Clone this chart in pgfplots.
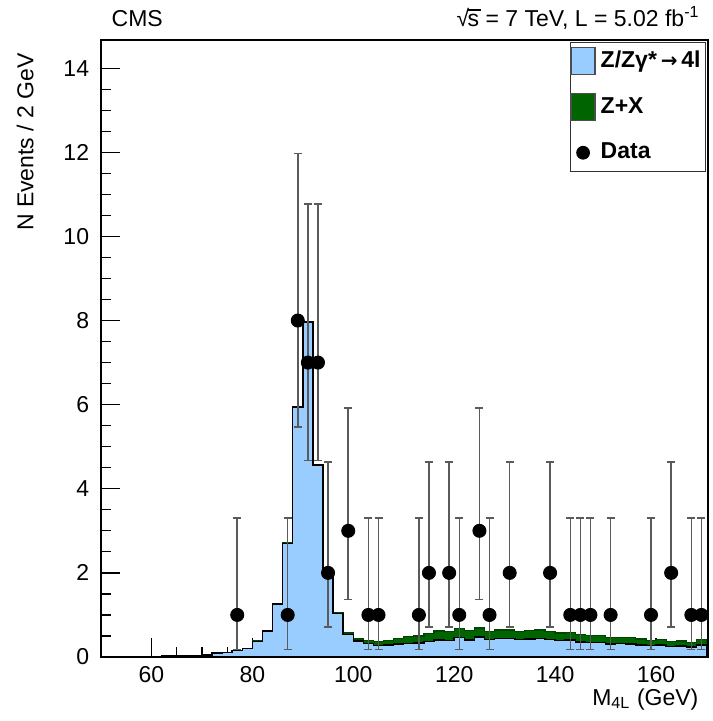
\documentclass[border=0pt]{standalone}
\usepackage{pgfplots}
\usepackage{pgfplotstable}
\pgfplotsset{compat=1.18}
\usepackage{fontspec}
\setmainfont{Liberation Sans}
\definecolor{zzblue}{RGB}{153,204,255}
\definecolor{zxgreen}{RGB}{0,100,0}
\definecolor{errgray}{RGB}{90,90,90}

\pgfplotstableread{
edge zz tot
62 0.03 0.03
64 0.03 0.03
66 0.03 0.03
68 0.04 0.04
70 0.05 0.05
72 0.09 0.09
74 0.11 0.11
76 0.15 0.15
78 0.20 0.21
80 0.37 0.38
82 0.62 0.63
84 1.26 1.27
86 2.70 2.71
88 5.94 5.95
90 7.96 7.97
92 4.56 4.57
94 2.00 2.01
96 1.03 1.05
98 0.54 0.57
100 0.38 0.43
102 0.32 0.40
104 0.27 0.36
106 0.28 0.39
108 0.31 0.44
110 0.32 0.48
112 0.33 0.50
114 0.37 0.56
116 0.41 0.62
118 0.39 0.61
120 0.46 0.68
122 0.41 0.63
124 0.47 0.69
126 0.42 0.61
128 0.44 0.64
130 0.44 0.64
132 0.42 0.61
134 0.43 0.63
136 0.44 0.64
138 0.42 0.61
140 0.39 0.57
142 0.40 0.59
144 0.36 0.53
146 0.34 0.51
148 0.34 0.51
150 0.31 0.46
152 0.32 0.47
154 0.31 0.46
156 0.29 0.43
158 0.27 0.39
160 0.29 0.42
162 0.25 0.36
164 0.26 0.38
166 0.24 0.34
168 0.28 0.41
170 0.28 0.41
}\histtable

\pgfplotstableread{
x y ep em
77 1 2.300 0.827
87 1 2.300 0.827
89 8 3.977 2.527
91 7 3.769 2.329
93 7 3.769 2.329
95 2 2.638 1.292
99 3 2.918 1.633
103 1 2.300 0.827
105 1 2.300 0.827
113 1 2.300 0.827
115 2 2.638 1.292
119 2 2.638 1.292
121 1 2.300 0.827
125 3 2.918 1.633
127 1 2.300 0.827
131 2 2.638 1.292
139 2 2.638 1.292
143 1 2.300 0.827
145 1 2.300 0.827
147 1 2.300 0.827
151 1 2.300 0.827
159 1 2.300 0.827
163 2 2.638 1.292
167 1 2.300 0.827
169 1 2.300 0.827
}\datatable

\begin{document}
\fontsize{9.2}{11}\selectfont
\begin{tikzpicture}
\path[use as bounding box] (-40.4pt,-25.6pt) rectangle (244.4pt,262.8pt);
\begin{axis}[
  scale only axis,
  width=242.8pt, height=246.8pt,
  xmin=50, xmax=170.3, ymin=0, ymax=14.67,
  xtick={60,80,...,160}, minor x tick num=3,
  ytick={0,2,...,14}, minor y tick num=3,
  xtick pos=bottom, ytick pos=left,
  tick align=inside,
  major tick length=7.5pt, minor tick length=4pt,
  axis line style={line width=0.6pt},
  every tick/.style={black, line width=0.5pt},
  /pgf/number format/assume math mode=true,
  tick label style={font=\fontsize{9.2}{11}\selectfont},
  xticklabel style={yshift=-0.6pt},
  yticklabel style={xshift=-1.5pt},
  clip=false,
  legend style={at={(0.997,0.997)}, anchor=north east, draw=black!80, line width=0.5pt,
    font=\fontsize{9.2}{11}\selectfont\bfseries, row sep=6.5pt, inner xsep=0pt, inner ysep=1.5pt,
    cells={anchor=west}},
  legend cell align=left,
]
% total (ZZ + Z+X) drawn first in green
\addplot[const plot, fill=zxgreen, draw=zxgreen!70!black, line width=0.5pt, forget plot]
  table[x=edge, y=tot] {\histtable} \closedcycle;
% ZZ on top in light blue
\addplot[const plot, fill=zzblue, draw=black, line width=0.6pt, forget plot]
  table[x=edge, y=zz] {\histtable} \closedcycle;
% data
\addplot[only marks, mark=*, mark size=2.6pt, color=black, forget plot,
  error bars/.cd, y dir=both, y explicit,
  error bar style={errgray, line width=0.6pt},
  error mark options={rotate=90, mark size=1.6pt, errgray, line width=0.6pt}]
  table[x=x, y=y, y error plus=ep, y error minus=em] {\datatable};

\addlegendimage{legend image code/.code={\draw[fill=zzblue, draw=black!70, line width=0.5pt] (0pt,-5.4pt) rectangle (9.6pt,5.4pt);}}
\addlegendentry{Z/Zγ*\,{\fontspec{DejaVu Sans}\fontsize{8}{10}\selectfont →}\,4l}
\addlegendimage{legend image code/.code={\draw[fill=zxgreen, draw=black!70, line width=0.5pt] (0pt,-5.4pt) rectangle (9.6pt,5.4pt);}}
\addlegendentry{Z+X}
\addlegendimage{legend image code/.code={\fill[black] (4.8pt,0pt) circle (2.5pt);}}
\addlegendentry{Data}

\coordinate (TL) at (rel axis cs:0,1);
\coordinate (TR) at (rel axis cs:1,1);
\coordinate (BR) at (rel axis cs:1,0);
\end{axis}
\node[anchor=base west, font=\fontsize{9.2}{11}\selectfont] at ([xshift=1pt, yshift=5.2pt]TL) {CMS};
\node[anchor=base east, font=\fontsize{9.2}{11}\selectfont] at ([yshift=5.2pt]TR)
  {√\kern-0.6pt\rlap{\raisebox{6.55pt}{\rule{5.4pt}{0.45pt}}}s = 7 TeV, L = 5.02 fb\textsuperscript{-1}};
\node[anchor=base east, rotate=90, font=\fontsize{9.2}{11}\selectfont] at ([xshift=-27pt, yshift=-2pt]TL) {N Events / 2 GeV};
\node[anchor=base east, font=\fontsize{9.2}{11}\selectfont] at ([yshift=-19.2pt, xshift=-0.6pt]BR) {M\textsubscript{4L} (GeV)};
\end{tikzpicture}
\end{document}
